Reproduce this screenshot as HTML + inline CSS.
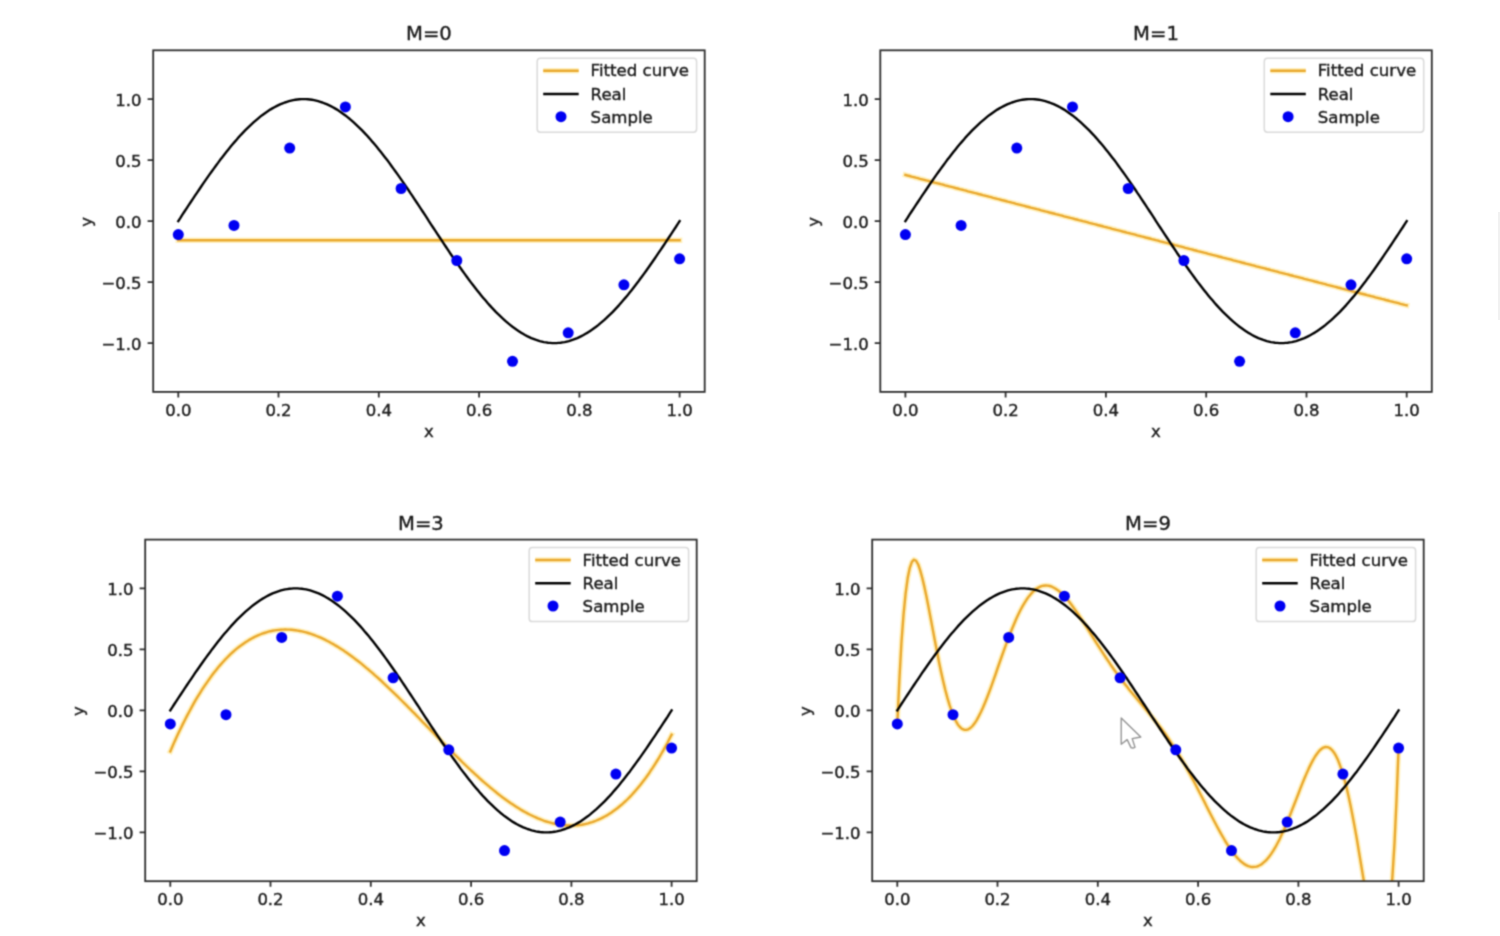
<!DOCTYPE html>
<html lang="en">
<head>
<meta charset="utf-8">
<title>Polynomial curve fitting: M=0, M=1, M=3, M=9</title>
<style>
html,body{margin:0;padding:0;background:#fff;}
body{width:1500px;height:936px;overflow:hidden;position:relative;}
svg{display:block;position:absolute;left:0;top:0;}
svg text{font-family:"DejaVu Sans","Liberation Sans",sans-serif;stroke:#1c1c1c;stroke-width:0.4px;}
#edge{position:absolute;left:1497.5px;top:212px;width:2.5px;height:108px;background:#f1f1f1;}
</style>
</head>
<body>
<svg width="1500" height="936" viewBox="0 0 1500 936">
<defs><filter id="soft" x="0" y="0" width="1500" height="936" filterUnits="userSpaceOnUse" color-interpolation-filters="sRGB"><feConvolveMatrix order="3" kernelMatrix="0.0441 0.1218 0.0441 0.1218 0.3364 0.1218 0.0441 0.1218 0.0441" edgeMode="duplicate" preserveAlpha="false"/></filter></defs>
<g filter="url(#soft)">
<rect width="1500" height="936" fill="#fff"/>
<g>
<clipPath id="c0"><rect x="153.2" y="50.3" width="551.5" height="341.6"/></clipPath>
<g clip-path="url(#c0)" fill="none" stroke-width="2.40" stroke-linejoin="round" stroke-linecap="square">
<path stroke="#ffe68c" stroke-opacity="0.55" stroke-width="5.6" d="M178.3,240.2 L180.4,240.2 L182.4,240.2 L184.5,240.2 L186.6,240.2 L188.7,240.2 L190.8,240.2 L192.9,240.2 L195.0,240.2 L197.1,240.2 L199.2,240.2 L201.2,240.2 L203.3,240.2 L205.4,240.2 L207.5,240.2 L209.6,240.2 L211.7,240.2 L213.8,240.2 L215.9,240.2 L218.0,240.2 L220.0,240.2 L222.1,240.2 L224.2,240.2 L226.3,240.2 L228.4,240.2 L230.5,240.2 L232.6,240.2 L234.7,240.2 L236.8,240.2 L238.8,240.2 L240.9,240.2 L243.0,240.2 L245.1,240.2 L247.2,240.2 L249.3,240.2 L251.4,240.2 L253.5,240.2 L255.6,240.2 L257.7,240.2 L259.7,240.2 L261.8,240.2 L263.9,240.2 L266.0,240.2 L268.1,240.2 L270.2,240.2 L272.3,240.2 L274.4,240.2 L276.5,240.2 L278.5,240.2 L280.6,240.2 L282.7,240.2 L284.8,240.2 L286.9,240.2 L289.0,240.2 L291.1,240.2 L293.2,240.2 L295.3,240.2 L297.3,240.2 L299.4,240.2 L301.5,240.2 L303.6,240.2 L305.7,240.2 L307.8,240.2 L309.9,240.2 L312.0,240.2 L314.1,240.2 L316.1,240.2 L318.2,240.2 L320.3,240.2 L322.4,240.2 L324.5,240.2 L326.6,240.2 L328.7,240.2 L330.8,240.2 L332.9,240.2 L334.9,240.2 L337.0,240.2 L339.1,240.2 L341.2,240.2 L343.3,240.2 L345.4,240.2 L347.5,240.2 L349.6,240.2 L351.7,240.2 L353.7,240.2 L355.8,240.2 L357.9,240.2 L360.0,240.2 L362.1,240.2 L364.2,240.2 L366.3,240.2 L368.4,240.2 L370.5,240.2 L372.5,240.2 L374.6,240.2 L376.7,240.2 L378.8,240.2 L380.9,240.2 L383.0,240.2 L385.1,240.2 L387.2,240.2 L389.3,240.2 L391.3,240.2 L393.4,240.2 L395.5,240.2 L397.6,240.2 L399.7,240.2 L401.8,240.2 L403.9,240.2 L406.0,240.2 L408.1,240.2 L410.1,240.2 L412.2,240.2 L414.3,240.2 L416.4,240.2 L418.5,240.2 L420.6,240.2 L422.7,240.2 L424.8,240.2 L426.9,240.2 L428.9,240.2 L431.0,240.2 L433.1,240.2 L435.2,240.2 L437.3,240.2 L439.4,240.2 L441.5,240.2 L443.6,240.2 L445.7,240.2 L447.8,240.2 L449.8,240.2 L451.9,240.2 L454.0,240.2 L456.1,240.2 L458.2,240.2 L460.3,240.2 L462.4,240.2 L464.5,240.2 L466.6,240.2 L468.6,240.2 L470.7,240.2 L472.8,240.2 L474.9,240.2 L477.0,240.2 L479.1,240.2 L481.2,240.2 L483.3,240.2 L485.4,240.2 L487.4,240.2 L489.5,240.2 L491.6,240.2 L493.7,240.2 L495.8,240.2 L497.9,240.2 L500.0,240.2 L502.1,240.2 L504.2,240.2 L506.2,240.2 L508.3,240.2 L510.4,240.2 L512.5,240.2 L514.6,240.2 L516.7,240.2 L518.8,240.2 L520.9,240.2 L523.0,240.2 L525.0,240.2 L527.1,240.2 L529.2,240.2 L531.3,240.2 L533.4,240.2 L535.5,240.2 L537.6,240.2 L539.7,240.2 L541.8,240.2 L543.8,240.2 L545.9,240.2 L548.0,240.2 L550.1,240.2 L552.2,240.2 L554.3,240.2 L556.4,240.2 L558.5,240.2 L560.6,240.2 L562.6,240.2 L564.7,240.2 L566.8,240.2 L568.9,240.2 L571.0,240.2 L573.1,240.2 L575.2,240.2 L577.3,240.2 L579.4,240.2 L581.4,240.2 L583.5,240.2 L585.6,240.2 L587.7,240.2 L589.8,240.2 L591.9,240.2 L594.0,240.2 L596.1,240.2 L598.2,240.2 L600.2,240.2 L602.3,240.2 L604.4,240.2 L606.5,240.2 L608.6,240.2 L610.7,240.2 L612.8,240.2 L614.9,240.2 L617.0,240.2 L619.1,240.2 L621.1,240.2 L623.2,240.2 L625.3,240.2 L627.4,240.2 L629.5,240.2 L631.6,240.2 L633.7,240.2 L635.8,240.2 L637.9,240.2 L639.9,240.2 L642.0,240.2 L644.1,240.2 L646.2,240.2 L648.3,240.2 L650.4,240.2 L652.5,240.2 L654.6,240.2 L656.7,240.2 L658.7,240.2 L660.8,240.2 L662.9,240.2 L665.0,240.2 L667.1,240.2 L669.2,240.2 L671.3,240.2 L673.4,240.2 L675.5,240.2 L677.5,240.2 L679.6,240.2"/>
<path stroke="#eaa92f" d="M178.3,240.2 L180.4,240.2 L182.4,240.2 L184.5,240.2 L186.6,240.2 L188.7,240.2 L190.8,240.2 L192.9,240.2 L195.0,240.2 L197.1,240.2 L199.2,240.2 L201.2,240.2 L203.3,240.2 L205.4,240.2 L207.5,240.2 L209.6,240.2 L211.7,240.2 L213.8,240.2 L215.9,240.2 L218.0,240.2 L220.0,240.2 L222.1,240.2 L224.2,240.2 L226.3,240.2 L228.4,240.2 L230.5,240.2 L232.6,240.2 L234.7,240.2 L236.8,240.2 L238.8,240.2 L240.9,240.2 L243.0,240.2 L245.1,240.2 L247.2,240.2 L249.3,240.2 L251.4,240.2 L253.5,240.2 L255.6,240.2 L257.7,240.2 L259.7,240.2 L261.8,240.2 L263.9,240.2 L266.0,240.2 L268.1,240.2 L270.2,240.2 L272.3,240.2 L274.4,240.2 L276.5,240.2 L278.5,240.2 L280.6,240.2 L282.7,240.2 L284.8,240.2 L286.9,240.2 L289.0,240.2 L291.1,240.2 L293.2,240.2 L295.3,240.2 L297.3,240.2 L299.4,240.2 L301.5,240.2 L303.6,240.2 L305.7,240.2 L307.8,240.2 L309.9,240.2 L312.0,240.2 L314.1,240.2 L316.1,240.2 L318.2,240.2 L320.3,240.2 L322.4,240.2 L324.5,240.2 L326.6,240.2 L328.7,240.2 L330.8,240.2 L332.9,240.2 L334.9,240.2 L337.0,240.2 L339.1,240.2 L341.2,240.2 L343.3,240.2 L345.4,240.2 L347.5,240.2 L349.6,240.2 L351.7,240.2 L353.7,240.2 L355.8,240.2 L357.9,240.2 L360.0,240.2 L362.1,240.2 L364.2,240.2 L366.3,240.2 L368.4,240.2 L370.5,240.2 L372.5,240.2 L374.6,240.2 L376.7,240.2 L378.8,240.2 L380.9,240.2 L383.0,240.2 L385.1,240.2 L387.2,240.2 L389.3,240.2 L391.3,240.2 L393.4,240.2 L395.5,240.2 L397.6,240.2 L399.7,240.2 L401.8,240.2 L403.9,240.2 L406.0,240.2 L408.1,240.2 L410.1,240.2 L412.2,240.2 L414.3,240.2 L416.4,240.2 L418.5,240.2 L420.6,240.2 L422.7,240.2 L424.8,240.2 L426.9,240.2 L428.9,240.2 L431.0,240.2 L433.1,240.2 L435.2,240.2 L437.3,240.2 L439.4,240.2 L441.5,240.2 L443.6,240.2 L445.7,240.2 L447.8,240.2 L449.8,240.2 L451.9,240.2 L454.0,240.2 L456.1,240.2 L458.2,240.2 L460.3,240.2 L462.4,240.2 L464.5,240.2 L466.6,240.2 L468.6,240.2 L470.7,240.2 L472.8,240.2 L474.9,240.2 L477.0,240.2 L479.1,240.2 L481.2,240.2 L483.3,240.2 L485.4,240.2 L487.4,240.2 L489.5,240.2 L491.6,240.2 L493.7,240.2 L495.8,240.2 L497.9,240.2 L500.0,240.2 L502.1,240.2 L504.2,240.2 L506.2,240.2 L508.3,240.2 L510.4,240.2 L512.5,240.2 L514.6,240.2 L516.7,240.2 L518.8,240.2 L520.9,240.2 L523.0,240.2 L525.0,240.2 L527.1,240.2 L529.2,240.2 L531.3,240.2 L533.4,240.2 L535.5,240.2 L537.6,240.2 L539.7,240.2 L541.8,240.2 L543.8,240.2 L545.9,240.2 L548.0,240.2 L550.1,240.2 L552.2,240.2 L554.3,240.2 L556.4,240.2 L558.5,240.2 L560.6,240.2 L562.6,240.2 L564.7,240.2 L566.8,240.2 L568.9,240.2 L571.0,240.2 L573.1,240.2 L575.2,240.2 L577.3,240.2 L579.4,240.2 L581.4,240.2 L583.5,240.2 L585.6,240.2 L587.7,240.2 L589.8,240.2 L591.9,240.2 L594.0,240.2 L596.1,240.2 L598.2,240.2 L600.2,240.2 L602.3,240.2 L604.4,240.2 L606.5,240.2 L608.6,240.2 L610.7,240.2 L612.8,240.2 L614.9,240.2 L617.0,240.2 L619.1,240.2 L621.1,240.2 L623.2,240.2 L625.3,240.2 L627.4,240.2 L629.5,240.2 L631.6,240.2 L633.7,240.2 L635.8,240.2 L637.9,240.2 L639.9,240.2 L642.0,240.2 L644.1,240.2 L646.2,240.2 L648.3,240.2 L650.4,240.2 L652.5,240.2 L654.6,240.2 L656.7,240.2 L658.7,240.2 L660.8,240.2 L662.9,240.2 L665.0,240.2 L667.1,240.2 L669.2,240.2 L671.3,240.2 L673.4,240.2 L675.5,240.2 L677.5,240.2 L679.6,240.2"/>
<path stroke="#000" d="M178.3,221.1 L180.4,217.9 L182.4,214.7 L184.5,211.5 L186.6,208.3 L188.7,205.2 L190.8,202.0 L192.9,198.9 L195.0,195.7 L197.1,192.6 L199.2,189.5 L201.2,186.5 L203.3,183.4 L205.4,180.4 L207.5,177.4 L209.6,174.4 L211.7,171.5 L213.8,168.6 L215.9,165.7 L218.0,162.9 L220.0,160.1 L222.1,157.4 L224.2,154.7 L226.3,152.0 L228.4,149.4 L230.5,146.8 L232.6,144.3 L234.7,141.9 L236.8,139.5 L238.8,137.1 L240.9,134.8 L243.0,132.6 L245.1,130.4 L247.2,128.3 L249.3,126.3 L251.4,124.3 L253.5,122.4 L255.6,120.6 L257.7,118.8 L259.7,117.1 L261.8,115.4 L263.9,113.9 L266.0,112.4 L268.1,111.0 L270.2,109.6 L272.3,108.4 L274.4,107.2 L276.5,106.1 L278.5,105.1 L280.6,104.1 L282.7,103.3 L284.8,102.5 L286.9,101.8 L289.0,101.1 L291.1,100.6 L293.2,100.1 L295.3,99.8 L297.3,99.5 L299.4,99.3 L301.5,99.1 L303.6,99.1 L305.7,99.1 L307.8,99.3 L309.9,99.5 L312.0,99.8 L314.1,100.1 L316.1,100.6 L318.2,101.1 L320.3,101.8 L322.4,102.5 L324.5,103.3 L326.6,104.1 L328.7,105.1 L330.8,106.1 L332.9,107.2 L334.9,108.4 L337.0,109.6 L339.1,111.0 L341.2,112.4 L343.3,113.9 L345.4,115.4 L347.5,117.1 L349.6,118.8 L351.7,120.6 L353.7,122.4 L355.8,124.3 L357.9,126.3 L360.0,128.3 L362.1,130.4 L364.2,132.6 L366.3,134.8 L368.4,137.1 L370.5,139.5 L372.5,141.9 L374.6,144.3 L376.7,146.8 L378.8,149.4 L380.9,152.0 L383.0,154.7 L385.1,157.4 L387.2,160.1 L389.3,162.9 L391.3,165.7 L393.4,168.6 L395.5,171.5 L397.6,174.4 L399.7,177.4 L401.8,180.4 L403.9,183.4 L406.0,186.5 L408.1,189.5 L410.1,192.6 L412.2,195.7 L414.3,198.9 L416.4,202.0 L418.5,205.2 L420.6,208.3 L422.7,211.5 L424.8,214.7 L426.9,217.9 L428.9,221.1 L431.0,224.3 L433.1,227.5 L435.2,230.7 L437.3,233.9 L439.4,237.0 L441.5,240.2 L443.6,243.3 L445.7,246.5 L447.8,249.6 L449.8,252.7 L451.9,255.7 L454.0,258.8 L456.1,261.8 L458.2,264.8 L460.3,267.8 L462.4,270.7 L464.5,273.6 L466.6,276.5 L468.6,279.3 L470.7,282.1 L472.8,284.8 L474.9,287.5 L477.0,290.2 L479.1,292.8 L481.2,295.4 L483.3,297.9 L485.4,300.3 L487.4,302.7 L489.5,305.1 L491.6,307.4 L493.7,309.6 L495.8,311.8 L497.9,313.9 L500.0,315.9 L502.1,317.9 L504.2,319.8 L506.2,321.6 L508.3,323.4 L510.4,325.1 L512.5,326.8 L514.6,328.3 L516.7,329.8 L518.8,331.2 L520.9,332.6 L523.0,333.8 L525.0,335.0 L527.1,336.1 L529.2,337.1 L531.3,338.1 L533.4,338.9 L535.5,339.7 L537.6,340.4 L539.7,341.1 L541.8,341.6 L543.8,342.1 L545.9,342.4 L548.0,342.7 L550.1,342.9 L552.2,343.1 L554.3,343.1 L556.4,343.1 L558.5,342.9 L560.6,342.7 L562.6,342.4 L564.7,342.1 L566.8,341.6 L568.9,341.1 L571.0,340.4 L573.1,339.7 L575.2,338.9 L577.3,338.1 L579.4,337.1 L581.4,336.1 L583.5,335.0 L585.6,333.8 L587.7,332.6 L589.8,331.2 L591.9,329.8 L594.0,328.3 L596.1,326.8 L598.2,325.1 L600.2,323.4 L602.3,321.6 L604.4,319.8 L606.5,317.9 L608.6,315.9 L610.7,313.9 L612.8,311.8 L614.9,309.6 L617.0,307.4 L619.1,305.1 L621.1,302.7 L623.2,300.3 L625.3,297.9 L627.4,295.4 L629.5,292.8 L631.6,290.2 L633.7,287.5 L635.8,284.8 L637.9,282.1 L639.9,279.3 L642.0,276.5 L644.1,273.6 L646.2,270.7 L648.3,267.8 L650.4,264.8 L652.5,261.8 L654.6,258.8 L656.7,255.7 L658.7,252.7 L660.8,249.6 L662.9,246.5 L665.0,243.3 L667.1,240.2 L669.2,237.0 L671.3,233.9 L673.4,230.7 L675.5,227.5 L677.5,224.3 L679.6,221.1"/>
</g>
<g fill="#0000f2">
<circle cx="178.3" cy="234.6" r="5.5"/>
<circle cx="234.0" cy="225.4" r="5.5"/>
<circle cx="289.7" cy="148.1" r="5.5"/>
<circle cx="345.4" cy="106.9" r="5.5"/>
<circle cx="401.1" cy="188.5" r="5.5"/>
<circle cx="456.8" cy="260.5" r="5.5"/>
<circle cx="512.5" cy="361.3" r="5.5"/>
<circle cx="568.2" cy="332.8" r="5.5"/>
<circle cx="623.9" cy="284.8" r="5.5"/>
<circle cx="679.6" cy="258.8" r="5.5"/>
</g>
<rect x="153.2" y="50.3" width="551.5" height="341.6" fill="none" stroke="#2e2e2e" stroke-width="1.80"/>
<path d="M178.3,391.9 v5.6 M278.5,391.9 v5.6 M378.8,391.9 v5.6 M479.1,391.9 v5.6 M579.4,391.9 v5.6 M679.6,391.9 v5.6 M153.2,343.1 h-5.6 M153.2,282.1 h-5.6 M153.2,221.1 h-5.6 M153.2,160.1 h-5.6 M153.2,99.1 h-5.6" stroke="#2e2e2e" stroke-width="1.80" fill="none"/>
<g font-size="16.5" fill="#1c1c1c">
<text x="178.3" y="415.9" text-anchor="middle">0.0</text>
<text x="278.5" y="415.9" text-anchor="middle">0.2</text>
<text x="378.8" y="415.9" text-anchor="middle">0.4</text>
<text x="479.1" y="415.9" text-anchor="middle">0.6</text>
<text x="579.4" y="415.9" text-anchor="middle">0.8</text>
<text x="679.6" y="415.9" text-anchor="middle">1.0</text>
<text x="141.6" y="349.6" text-anchor="end">−1.0</text>
<text x="141.6" y="288.6" text-anchor="end">−0.5</text>
<text x="141.6" y="227.6" text-anchor="end">0.0</text>
<text x="141.6" y="166.6" text-anchor="end">0.5</text>
<text x="141.6" y="105.6" text-anchor="end">1.0</text>
<text x="428.9" y="436.9" text-anchor="middle">x</text>
<text transform="translate(91.7,221.9) rotate(-90)" text-anchor="middle">y</text>
</g>
<text x="428.9" y="40.3" text-anchor="middle" font-size="19.6" fill="#1c1c1c">M=0</text>
<rect x="537.2" y="58.3" width="159.4" height="74.0" rx="3.2" fill="#fff" fill-opacity="0.8" stroke="#dadada" stroke-width="1.5"/>
<path d="M543.2,70.7 h35.5" stroke="#ffe68c" stroke-opacity="0.55" stroke-width="5.6"/>
<path d="M543.2,70.7 h35.5" stroke="#eaa92f" stroke-width="2.60"/>
<path d="M543.2,94.0 h35.5" stroke="#000" stroke-width="2.60"/>
<circle cx="561.0" cy="116.7" r="5.5" fill="#0000f2"/>
<g font-size="16.60" fill="#1c1c1c">
<text x="590.6" y="76.4">Fitted curve</text>
<text x="590.6" y="99.6">Real</text>
<text x="590.6" y="122.6">Sample</text>
</g>
</g>
<g>
<clipPath id="c1"><rect x="880.3" y="50.3" width="551.5" height="341.6"/></clipPath>
<g clip-path="url(#c1)" fill="none" stroke-width="2.40" stroke-linejoin="round" stroke-linecap="square">
<path stroke="#ffe68c" stroke-opacity="0.55" stroke-width="5.6" d="M905.4,174.9 L907.5,175.5 L909.5,176.0 L911.6,176.6 L913.7,177.1 L915.8,177.7 L917.9,178.2 L920.0,178.8 L922.1,179.3 L924.2,179.8 L926.3,180.4 L928.3,180.9 L930.4,181.5 L932.5,182.0 L934.6,182.6 L936.7,183.1 L938.8,183.6 L940.9,184.2 L943.0,184.7 L945.1,185.3 L947.1,185.8 L949.2,186.4 L951.3,186.9 L953.4,187.4 L955.5,188.0 L957.6,188.5 L959.7,189.1 L961.8,189.6 L963.9,190.2 L965.9,190.7 L968.0,191.3 L970.1,191.8 L972.2,192.3 L974.3,192.9 L976.4,193.4 L978.5,194.0 L980.6,194.5 L982.7,195.1 L984.8,195.6 L986.8,196.1 L988.9,196.7 L991.0,197.2 L993.1,197.8 L995.2,198.3 L997.3,198.9 L999.4,199.4 L1001.5,200.0 L1003.6,200.5 L1005.6,201.0 L1007.7,201.6 L1009.8,202.1 L1011.9,202.7 L1014.0,203.2 L1016.1,203.8 L1018.2,204.3 L1020.3,204.8 L1022.4,205.4 L1024.4,205.9 L1026.5,206.5 L1028.6,207.0 L1030.7,207.6 L1032.8,208.1 L1034.9,208.6 L1037.0,209.2 L1039.1,209.7 L1041.2,210.3 L1043.2,210.8 L1045.3,211.4 L1047.4,211.9 L1049.5,212.5 L1051.6,213.0 L1053.7,213.5 L1055.8,214.1 L1057.9,214.6 L1060.0,215.2 L1062.0,215.7 L1064.1,216.3 L1066.2,216.8 L1068.3,217.3 L1070.4,217.9 L1072.5,218.4 L1074.6,219.0 L1076.7,219.5 L1078.8,220.1 L1080.8,220.6 L1082.9,221.2 L1085.0,221.7 L1087.1,222.2 L1089.2,222.8 L1091.3,223.3 L1093.4,223.9 L1095.5,224.4 L1097.6,225.0 L1099.6,225.5 L1101.7,226.0 L1103.8,226.6 L1105.9,227.1 L1108.0,227.7 L1110.1,228.2 L1112.2,228.8 L1114.3,229.3 L1116.4,229.9 L1118.4,230.4 L1120.5,230.9 L1122.6,231.5 L1124.7,232.0 L1126.8,232.6 L1128.9,233.1 L1131.0,233.7 L1133.1,234.2 L1135.2,234.7 L1137.2,235.3 L1139.3,235.8 L1141.4,236.4 L1143.5,236.9 L1145.6,237.5 L1147.7,238.0 L1149.8,238.5 L1151.9,239.1 L1154.0,239.6 L1156.0,240.2 L1158.1,240.7 L1160.2,241.3 L1162.3,241.8 L1164.4,242.4 L1166.5,242.9 L1168.6,243.4 L1170.7,244.0 L1172.8,244.5 L1174.9,245.1 L1176.9,245.6 L1179.0,246.2 L1181.1,246.7 L1183.2,247.2 L1185.3,247.8 L1187.4,248.3 L1189.5,248.9 L1191.6,249.4 L1193.7,250.0 L1195.7,250.5 L1197.8,251.1 L1199.9,251.6 L1202.0,252.1 L1204.1,252.7 L1206.2,253.2 L1208.3,253.8 L1210.4,254.3 L1212.5,254.9 L1214.5,255.4 L1216.6,255.9 L1218.7,256.5 L1220.8,257.0 L1222.9,257.6 L1225.0,258.1 L1227.1,258.7 L1229.2,259.2 L1231.3,259.7 L1233.3,260.3 L1235.4,260.8 L1237.5,261.4 L1239.6,261.9 L1241.7,262.5 L1243.8,263.0 L1245.9,263.6 L1248.0,264.1 L1250.1,264.6 L1252.1,265.2 L1254.2,265.7 L1256.3,266.3 L1258.4,266.8 L1260.5,267.4 L1262.6,267.9 L1264.7,268.4 L1266.8,269.0 L1268.9,269.5 L1270.9,270.1 L1273.0,270.6 L1275.1,271.2 L1277.2,271.7 L1279.3,272.3 L1281.4,272.8 L1283.5,273.3 L1285.6,273.9 L1287.7,274.4 L1289.7,275.0 L1291.8,275.5 L1293.9,276.1 L1296.0,276.6 L1298.1,277.1 L1300.2,277.7 L1302.3,278.2 L1304.4,278.8 L1306.5,279.3 L1308.5,279.9 L1310.6,280.4 L1312.7,280.9 L1314.8,281.5 L1316.9,282.0 L1319.0,282.6 L1321.1,283.1 L1323.2,283.7 L1325.3,284.2 L1327.3,284.8 L1329.4,285.3 L1331.5,285.8 L1333.6,286.4 L1335.7,286.9 L1337.8,287.5 L1339.9,288.0 L1342.0,288.6 L1344.1,289.1 L1346.2,289.6 L1348.2,290.2 L1350.3,290.7 L1352.4,291.3 L1354.5,291.8 L1356.6,292.4 L1358.7,292.9 L1360.8,293.5 L1362.9,294.0 L1365.0,294.5 L1367.0,295.1 L1369.1,295.6 L1371.2,296.2 L1373.3,296.7 L1375.4,297.3 L1377.5,297.8 L1379.6,298.3 L1381.7,298.9 L1383.8,299.4 L1385.8,300.0 L1387.9,300.5 L1390.0,301.1 L1392.1,301.6 L1394.2,302.2 L1396.3,302.7 L1398.4,303.2 L1400.5,303.8 L1402.6,304.3 L1404.6,304.9 L1406.7,305.4"/>
<path stroke="#eaa92f" d="M905.4,174.9 L907.5,175.5 L909.5,176.0 L911.6,176.6 L913.7,177.1 L915.8,177.7 L917.9,178.2 L920.0,178.8 L922.1,179.3 L924.2,179.8 L926.3,180.4 L928.3,180.9 L930.4,181.5 L932.5,182.0 L934.6,182.6 L936.7,183.1 L938.8,183.6 L940.9,184.2 L943.0,184.7 L945.1,185.3 L947.1,185.8 L949.2,186.4 L951.3,186.9 L953.4,187.4 L955.5,188.0 L957.6,188.5 L959.7,189.1 L961.8,189.6 L963.9,190.2 L965.9,190.7 L968.0,191.3 L970.1,191.8 L972.2,192.3 L974.3,192.9 L976.4,193.4 L978.5,194.0 L980.6,194.5 L982.7,195.1 L984.8,195.6 L986.8,196.1 L988.9,196.7 L991.0,197.2 L993.1,197.8 L995.2,198.3 L997.3,198.9 L999.4,199.4 L1001.5,200.0 L1003.6,200.5 L1005.6,201.0 L1007.7,201.6 L1009.8,202.1 L1011.9,202.7 L1014.0,203.2 L1016.1,203.8 L1018.2,204.3 L1020.3,204.8 L1022.4,205.4 L1024.4,205.9 L1026.5,206.5 L1028.6,207.0 L1030.7,207.6 L1032.8,208.1 L1034.9,208.6 L1037.0,209.2 L1039.1,209.7 L1041.2,210.3 L1043.2,210.8 L1045.3,211.4 L1047.4,211.9 L1049.5,212.5 L1051.6,213.0 L1053.7,213.5 L1055.8,214.1 L1057.9,214.6 L1060.0,215.2 L1062.0,215.7 L1064.1,216.3 L1066.2,216.8 L1068.3,217.3 L1070.4,217.9 L1072.5,218.4 L1074.6,219.0 L1076.7,219.5 L1078.8,220.1 L1080.8,220.6 L1082.9,221.2 L1085.0,221.7 L1087.1,222.2 L1089.2,222.8 L1091.3,223.3 L1093.4,223.9 L1095.5,224.4 L1097.6,225.0 L1099.6,225.5 L1101.7,226.0 L1103.8,226.6 L1105.9,227.1 L1108.0,227.7 L1110.1,228.2 L1112.2,228.8 L1114.3,229.3 L1116.4,229.9 L1118.4,230.4 L1120.5,230.9 L1122.6,231.5 L1124.7,232.0 L1126.8,232.6 L1128.9,233.1 L1131.0,233.7 L1133.1,234.2 L1135.2,234.7 L1137.2,235.3 L1139.3,235.8 L1141.4,236.4 L1143.5,236.9 L1145.6,237.5 L1147.7,238.0 L1149.8,238.5 L1151.9,239.1 L1154.0,239.6 L1156.0,240.2 L1158.1,240.7 L1160.2,241.3 L1162.3,241.8 L1164.4,242.4 L1166.5,242.9 L1168.6,243.4 L1170.7,244.0 L1172.8,244.5 L1174.9,245.1 L1176.9,245.6 L1179.0,246.2 L1181.1,246.7 L1183.2,247.2 L1185.3,247.8 L1187.4,248.3 L1189.5,248.9 L1191.6,249.4 L1193.7,250.0 L1195.7,250.5 L1197.8,251.1 L1199.9,251.6 L1202.0,252.1 L1204.1,252.7 L1206.2,253.2 L1208.3,253.8 L1210.4,254.3 L1212.5,254.9 L1214.5,255.4 L1216.6,255.9 L1218.7,256.5 L1220.8,257.0 L1222.9,257.6 L1225.0,258.1 L1227.1,258.7 L1229.2,259.2 L1231.3,259.7 L1233.3,260.3 L1235.4,260.8 L1237.5,261.4 L1239.6,261.9 L1241.7,262.5 L1243.8,263.0 L1245.9,263.6 L1248.0,264.1 L1250.1,264.6 L1252.1,265.2 L1254.2,265.7 L1256.3,266.3 L1258.4,266.8 L1260.5,267.4 L1262.6,267.9 L1264.7,268.4 L1266.8,269.0 L1268.9,269.5 L1270.9,270.1 L1273.0,270.6 L1275.1,271.2 L1277.2,271.7 L1279.3,272.3 L1281.4,272.8 L1283.5,273.3 L1285.6,273.9 L1287.7,274.4 L1289.7,275.0 L1291.8,275.5 L1293.9,276.1 L1296.0,276.6 L1298.1,277.1 L1300.2,277.7 L1302.3,278.2 L1304.4,278.8 L1306.5,279.3 L1308.5,279.9 L1310.6,280.4 L1312.7,280.9 L1314.8,281.5 L1316.9,282.0 L1319.0,282.6 L1321.1,283.1 L1323.2,283.7 L1325.3,284.2 L1327.3,284.8 L1329.4,285.3 L1331.5,285.8 L1333.6,286.4 L1335.7,286.9 L1337.8,287.5 L1339.9,288.0 L1342.0,288.6 L1344.1,289.1 L1346.2,289.6 L1348.2,290.2 L1350.3,290.7 L1352.4,291.3 L1354.5,291.8 L1356.6,292.4 L1358.7,292.9 L1360.8,293.5 L1362.9,294.0 L1365.0,294.5 L1367.0,295.1 L1369.1,295.6 L1371.2,296.2 L1373.3,296.7 L1375.4,297.3 L1377.5,297.8 L1379.6,298.3 L1381.7,298.9 L1383.8,299.4 L1385.8,300.0 L1387.9,300.5 L1390.0,301.1 L1392.1,301.6 L1394.2,302.2 L1396.3,302.7 L1398.4,303.2 L1400.5,303.8 L1402.6,304.3 L1404.6,304.9 L1406.7,305.4"/>
<path stroke="#000" d="M905.4,221.1 L907.5,217.9 L909.5,214.7 L911.6,211.5 L913.7,208.3 L915.8,205.2 L917.9,202.0 L920.0,198.9 L922.1,195.7 L924.2,192.6 L926.3,189.5 L928.3,186.5 L930.4,183.4 L932.5,180.4 L934.6,177.4 L936.7,174.4 L938.8,171.5 L940.9,168.6 L943.0,165.7 L945.1,162.9 L947.1,160.1 L949.2,157.4 L951.3,154.7 L953.4,152.0 L955.5,149.4 L957.6,146.8 L959.7,144.3 L961.8,141.9 L963.9,139.5 L965.9,137.1 L968.0,134.8 L970.1,132.6 L972.2,130.4 L974.3,128.3 L976.4,126.3 L978.5,124.3 L980.6,122.4 L982.7,120.6 L984.8,118.8 L986.8,117.1 L988.9,115.4 L991.0,113.9 L993.1,112.4 L995.2,111.0 L997.3,109.6 L999.4,108.4 L1001.5,107.2 L1003.6,106.1 L1005.6,105.1 L1007.7,104.1 L1009.8,103.3 L1011.9,102.5 L1014.0,101.8 L1016.1,101.1 L1018.2,100.6 L1020.3,100.1 L1022.4,99.8 L1024.4,99.5 L1026.5,99.3 L1028.6,99.1 L1030.7,99.1 L1032.8,99.1 L1034.9,99.3 L1037.0,99.5 L1039.1,99.8 L1041.2,100.1 L1043.2,100.6 L1045.3,101.1 L1047.4,101.8 L1049.5,102.5 L1051.6,103.3 L1053.7,104.1 L1055.8,105.1 L1057.9,106.1 L1060.0,107.2 L1062.0,108.4 L1064.1,109.6 L1066.2,111.0 L1068.3,112.4 L1070.4,113.9 L1072.5,115.4 L1074.6,117.1 L1076.7,118.8 L1078.8,120.6 L1080.8,122.4 L1082.9,124.3 L1085.0,126.3 L1087.1,128.3 L1089.2,130.4 L1091.3,132.6 L1093.4,134.8 L1095.5,137.1 L1097.6,139.5 L1099.6,141.9 L1101.7,144.3 L1103.8,146.8 L1105.9,149.4 L1108.0,152.0 L1110.1,154.7 L1112.2,157.4 L1114.3,160.1 L1116.4,162.9 L1118.4,165.7 L1120.5,168.6 L1122.6,171.5 L1124.7,174.4 L1126.8,177.4 L1128.9,180.4 L1131.0,183.4 L1133.1,186.5 L1135.2,189.5 L1137.2,192.6 L1139.3,195.7 L1141.4,198.9 L1143.5,202.0 L1145.6,205.2 L1147.7,208.3 L1149.8,211.5 L1151.9,214.7 L1154.0,217.9 L1156.0,221.1 L1158.1,224.3 L1160.2,227.5 L1162.3,230.7 L1164.4,233.9 L1166.5,237.0 L1168.6,240.2 L1170.7,243.3 L1172.8,246.5 L1174.9,249.6 L1176.9,252.7 L1179.0,255.7 L1181.1,258.8 L1183.2,261.8 L1185.3,264.8 L1187.4,267.8 L1189.5,270.7 L1191.6,273.6 L1193.7,276.5 L1195.7,279.3 L1197.8,282.1 L1199.9,284.8 L1202.0,287.5 L1204.1,290.2 L1206.2,292.8 L1208.3,295.4 L1210.4,297.9 L1212.5,300.3 L1214.5,302.7 L1216.6,305.1 L1218.7,307.4 L1220.8,309.6 L1222.9,311.8 L1225.0,313.9 L1227.1,315.9 L1229.2,317.9 L1231.3,319.8 L1233.3,321.6 L1235.4,323.4 L1237.5,325.1 L1239.6,326.8 L1241.7,328.3 L1243.8,329.8 L1245.9,331.2 L1248.0,332.6 L1250.1,333.8 L1252.1,335.0 L1254.2,336.1 L1256.3,337.1 L1258.4,338.1 L1260.5,338.9 L1262.6,339.7 L1264.7,340.4 L1266.8,341.1 L1268.9,341.6 L1270.9,342.1 L1273.0,342.4 L1275.1,342.7 L1277.2,342.9 L1279.3,343.1 L1281.4,343.1 L1283.5,343.1 L1285.6,342.9 L1287.7,342.7 L1289.7,342.4 L1291.8,342.1 L1293.9,341.6 L1296.0,341.1 L1298.1,340.4 L1300.2,339.7 L1302.3,338.9 L1304.4,338.1 L1306.5,337.1 L1308.5,336.1 L1310.6,335.0 L1312.7,333.8 L1314.8,332.6 L1316.9,331.2 L1319.0,329.8 L1321.1,328.3 L1323.2,326.8 L1325.3,325.1 L1327.3,323.4 L1329.4,321.6 L1331.5,319.8 L1333.6,317.9 L1335.7,315.9 L1337.8,313.9 L1339.9,311.8 L1342.0,309.6 L1344.1,307.4 L1346.2,305.1 L1348.2,302.7 L1350.3,300.3 L1352.4,297.9 L1354.5,295.4 L1356.6,292.8 L1358.7,290.2 L1360.8,287.5 L1362.9,284.8 L1365.0,282.1 L1367.0,279.3 L1369.1,276.5 L1371.2,273.6 L1373.3,270.7 L1375.4,267.8 L1377.5,264.8 L1379.6,261.8 L1381.7,258.8 L1383.8,255.7 L1385.8,252.7 L1387.9,249.6 L1390.0,246.5 L1392.1,243.3 L1394.2,240.2 L1396.3,237.0 L1398.4,233.9 L1400.5,230.7 L1402.6,227.5 L1404.6,224.3 L1406.7,221.1"/>
</g>
<g fill="#0000f2">
<circle cx="905.4" cy="234.6" r="5.5"/>
<circle cx="961.1" cy="225.4" r="5.5"/>
<circle cx="1016.8" cy="148.1" r="5.5"/>
<circle cx="1072.5" cy="106.9" r="5.5"/>
<circle cx="1128.2" cy="188.5" r="5.5"/>
<circle cx="1183.9" cy="260.5" r="5.5"/>
<circle cx="1239.6" cy="361.3" r="5.5"/>
<circle cx="1295.3" cy="332.8" r="5.5"/>
<circle cx="1351.0" cy="284.8" r="5.5"/>
<circle cx="1406.7" cy="258.8" r="5.5"/>
</g>
<rect x="880.3" y="50.3" width="551.5" height="341.6" fill="none" stroke="#2e2e2e" stroke-width="1.80"/>
<path d="M905.4,391.9 v5.6 M1005.6,391.9 v5.6 M1105.9,391.9 v5.6 M1206.2,391.9 v5.6 M1306.5,391.9 v5.6 M1406.7,391.9 v5.6 M880.3,343.1 h-5.6 M880.3,282.1 h-5.6 M880.3,221.1 h-5.6 M880.3,160.1 h-5.6 M880.3,99.1 h-5.6" stroke="#2e2e2e" stroke-width="1.80" fill="none"/>
<g font-size="16.5" fill="#1c1c1c">
<text x="905.4" y="415.9" text-anchor="middle">0.0</text>
<text x="1005.6" y="415.9" text-anchor="middle">0.2</text>
<text x="1105.9" y="415.9" text-anchor="middle">0.4</text>
<text x="1206.2" y="415.9" text-anchor="middle">0.6</text>
<text x="1306.5" y="415.9" text-anchor="middle">0.8</text>
<text x="1406.7" y="415.9" text-anchor="middle">1.0</text>
<text x="868.7" y="349.6" text-anchor="end">−1.0</text>
<text x="868.7" y="288.6" text-anchor="end">−0.5</text>
<text x="868.7" y="227.6" text-anchor="end">0.0</text>
<text x="868.7" y="166.6" text-anchor="end">0.5</text>
<text x="868.7" y="105.6" text-anchor="end">1.0</text>
<text x="1156.0" y="436.9" text-anchor="middle">x</text>
<text transform="translate(818.8,221.9) rotate(-90)" text-anchor="middle">y</text>
</g>
<text x="1156.0" y="40.3" text-anchor="middle" font-size="19.6" fill="#1c1c1c">M=1</text>
<rect x="1264.3" y="58.3" width="159.4" height="74.0" rx="3.2" fill="#fff" fill-opacity="0.8" stroke="#dadada" stroke-width="1.5"/>
<path d="M1270.3,70.7 h35.5" stroke="#ffe68c" stroke-opacity="0.55" stroke-width="5.6"/>
<path d="M1270.3,70.7 h35.5" stroke="#eaa92f" stroke-width="2.60"/>
<path d="M1270.3,94.0 h35.5" stroke="#000" stroke-width="2.60"/>
<circle cx="1288.1" cy="116.7" r="5.5" fill="#0000f2"/>
<g font-size="16.60" fill="#1c1c1c">
<text x="1317.7" y="76.4">Fitted curve</text>
<text x="1317.7" y="99.6">Real</text>
<text x="1317.7" y="122.6">Sample</text>
</g>
</g>
<g>
<clipPath id="c2"><rect x="145.2" y="539.6" width="551.5" height="341.6"/></clipPath>
<g clip-path="url(#c2)" fill="none" stroke-width="2.40" stroke-linejoin="round" stroke-linecap="square">
<path stroke="#ffe68c" stroke-opacity="0.55" stroke-width="5.6" d="M170.3,751.4 L172.4,746.6 L174.4,741.9 L176.5,737.3 L178.6,732.8 L180.7,728.4 L182.8,724.1 L184.9,720.0 L187.0,715.9 L189.1,712.0 L191.2,708.1 L193.2,704.4 L195.3,700.7 L197.4,697.2 L199.5,693.8 L201.6,690.4 L203.7,687.2 L205.8,684.1 L207.9,681.1 L210.0,678.1 L212.0,675.3 L214.1,672.5 L216.2,669.9 L218.3,667.3 L220.4,664.9 L222.5,662.5 L224.6,660.2 L226.7,658.0 L228.8,655.9 L230.8,653.9 L232.9,652.0 L235.0,650.2 L237.1,648.4 L239.2,646.7 L241.3,645.2 L243.4,643.7 L245.5,642.2 L247.6,640.9 L249.7,639.6 L251.7,638.5 L253.8,637.4 L255.9,636.3 L258.0,635.4 L260.1,634.5 L262.2,633.7 L264.3,633.0 L266.4,632.3 L268.5,631.7 L270.5,631.2 L272.6,630.8 L274.7,630.4 L276.8,630.1 L278.9,629.9 L281.0,629.7 L283.1,629.6 L285.2,629.5 L287.3,629.6 L289.3,629.6 L291.4,629.8 L293.5,630.0 L295.6,630.3 L297.7,630.6 L299.8,631.0 L301.9,631.4 L304.0,631.9 L306.1,632.4 L308.1,633.0 L310.2,633.7 L312.3,634.4 L314.4,635.2 L316.5,636.0 L318.6,636.8 L320.7,637.7 L322.8,638.7 L324.9,639.7 L326.9,640.7 L329.0,641.8 L331.1,643.0 L333.2,644.1 L335.3,645.4 L337.4,646.6 L339.5,647.9 L341.6,649.3 L343.7,650.6 L345.7,652.1 L347.8,653.5 L349.9,655.0 L352.0,656.5 L354.1,658.1 L356.2,659.7 L358.3,661.3 L360.4,662.9 L362.5,664.6 L364.5,666.3 L366.6,668.1 L368.7,669.8 L370.8,671.6 L372.9,673.4 L375.0,675.3 L377.1,677.1 L379.2,679.0 L381.3,680.9 L383.3,682.9 L385.4,684.8 L387.5,686.8 L389.6,688.8 L391.7,690.8 L393.8,692.8 L395.9,694.8 L398.0,696.9 L400.1,699.0 L402.1,701.0 L404.2,703.1 L406.3,705.2 L408.4,707.3 L410.5,709.4 L412.6,711.6 L414.7,713.7 L416.8,715.8 L418.9,718.0 L420.9,720.1 L423.0,722.3 L425.1,724.4 L427.2,726.6 L429.3,728.7 L431.4,730.9 L433.5,733.0 L435.6,735.2 L437.7,737.3 L439.8,739.5 L441.8,741.6 L443.9,743.7 L446.0,745.9 L448.1,748.0 L450.2,750.1 L452.3,752.2 L454.4,754.3 L456.5,756.3 L458.6,758.4 L460.6,760.4 L462.7,762.5 L464.8,764.5 L466.9,766.5 L469.0,768.5 L471.1,770.5 L473.2,772.4 L475.3,774.3 L477.4,776.2 L479.4,778.1 L481.5,780.0 L483.6,781.8 L485.7,783.6 L487.8,785.4 L489.9,787.2 L492.0,788.9 L494.1,790.6 L496.2,792.3 L498.2,794.0 L500.3,795.6 L502.4,797.2 L504.5,798.7 L506.6,800.2 L508.7,801.7 L510.8,803.2 L512.9,804.6 L515.0,806.0 L517.0,807.3 L519.1,808.6 L521.2,809.9 L523.3,811.1 L525.4,812.2 L527.5,813.4 L529.6,814.5 L531.7,815.5 L533.8,816.5 L535.8,817.4 L537.9,818.4 L540.0,819.2 L542.1,820.0 L544.2,820.8 L546.3,821.5 L548.4,822.1 L550.5,822.7 L552.6,823.3 L554.6,823.7 L556.7,824.2 L558.8,824.5 L560.9,824.9 L563.0,825.1 L565.1,825.3 L567.2,825.5 L569.3,825.5 L571.4,825.6 L573.4,825.5 L575.5,825.4 L577.6,825.2 L579.7,825.0 L581.8,824.7 L583.9,824.3 L586.0,823.8 L588.1,823.3 L590.2,822.7 L592.2,822.1 L594.3,821.3 L596.4,820.5 L598.5,819.6 L600.6,818.7 L602.7,817.6 L604.8,816.5 L606.9,815.4 L609.0,814.1 L611.1,812.7 L613.1,811.3 L615.2,809.8 L617.3,808.2 L619.4,806.5 L621.5,804.8 L623.6,802.9 L625.7,801.0 L627.8,799.0 L629.9,796.9 L631.9,794.7 L634.0,792.4 L636.1,790.0 L638.2,787.5 L640.3,785.0 L642.4,782.3 L644.5,779.6 L646.6,776.7 L648.7,773.8 L650.7,770.7 L652.8,767.6 L654.9,764.3 L657.0,761.0 L659.1,757.6 L661.2,754.0 L663.3,750.4 L665.4,746.6 L667.5,742.8 L669.5,738.8 L671.6,734.7"/>
<path stroke="#eaa92f" d="M170.3,751.4 L172.4,746.6 L174.4,741.9 L176.5,737.3 L178.6,732.8 L180.7,728.4 L182.8,724.1 L184.9,720.0 L187.0,715.9 L189.1,712.0 L191.2,708.1 L193.2,704.4 L195.3,700.7 L197.4,697.2 L199.5,693.8 L201.6,690.4 L203.7,687.2 L205.8,684.1 L207.9,681.1 L210.0,678.1 L212.0,675.3 L214.1,672.5 L216.2,669.9 L218.3,667.3 L220.4,664.9 L222.5,662.5 L224.6,660.2 L226.7,658.0 L228.8,655.9 L230.8,653.9 L232.9,652.0 L235.0,650.2 L237.1,648.4 L239.2,646.7 L241.3,645.2 L243.4,643.7 L245.5,642.2 L247.6,640.9 L249.7,639.6 L251.7,638.5 L253.8,637.4 L255.9,636.3 L258.0,635.4 L260.1,634.5 L262.2,633.7 L264.3,633.0 L266.4,632.3 L268.5,631.7 L270.5,631.2 L272.6,630.8 L274.7,630.4 L276.8,630.1 L278.9,629.9 L281.0,629.7 L283.1,629.6 L285.2,629.5 L287.3,629.6 L289.3,629.6 L291.4,629.8 L293.5,630.0 L295.6,630.3 L297.7,630.6 L299.8,631.0 L301.9,631.4 L304.0,631.9 L306.1,632.4 L308.1,633.0 L310.2,633.7 L312.3,634.4 L314.4,635.2 L316.5,636.0 L318.6,636.8 L320.7,637.7 L322.8,638.7 L324.9,639.7 L326.9,640.7 L329.0,641.8 L331.1,643.0 L333.2,644.1 L335.3,645.4 L337.4,646.6 L339.5,647.9 L341.6,649.3 L343.7,650.6 L345.7,652.1 L347.8,653.5 L349.9,655.0 L352.0,656.5 L354.1,658.1 L356.2,659.7 L358.3,661.3 L360.4,662.9 L362.5,664.6 L364.5,666.3 L366.6,668.1 L368.7,669.8 L370.8,671.6 L372.9,673.4 L375.0,675.3 L377.1,677.1 L379.2,679.0 L381.3,680.9 L383.3,682.9 L385.4,684.8 L387.5,686.8 L389.6,688.8 L391.7,690.8 L393.8,692.8 L395.9,694.8 L398.0,696.9 L400.1,699.0 L402.1,701.0 L404.2,703.1 L406.3,705.2 L408.4,707.3 L410.5,709.4 L412.6,711.6 L414.7,713.7 L416.8,715.8 L418.9,718.0 L420.9,720.1 L423.0,722.3 L425.1,724.4 L427.2,726.6 L429.3,728.7 L431.4,730.9 L433.5,733.0 L435.6,735.2 L437.7,737.3 L439.8,739.5 L441.8,741.6 L443.9,743.7 L446.0,745.9 L448.1,748.0 L450.2,750.1 L452.3,752.2 L454.4,754.3 L456.5,756.3 L458.6,758.4 L460.6,760.4 L462.7,762.5 L464.8,764.5 L466.9,766.5 L469.0,768.5 L471.1,770.5 L473.2,772.4 L475.3,774.3 L477.4,776.2 L479.4,778.1 L481.5,780.0 L483.6,781.8 L485.7,783.6 L487.8,785.4 L489.9,787.2 L492.0,788.9 L494.1,790.6 L496.2,792.3 L498.2,794.0 L500.3,795.6 L502.4,797.2 L504.5,798.7 L506.6,800.2 L508.7,801.7 L510.8,803.2 L512.9,804.6 L515.0,806.0 L517.0,807.3 L519.1,808.6 L521.2,809.9 L523.3,811.1 L525.4,812.2 L527.5,813.4 L529.6,814.5 L531.7,815.5 L533.8,816.5 L535.8,817.4 L537.9,818.4 L540.0,819.2 L542.1,820.0 L544.2,820.8 L546.3,821.5 L548.4,822.1 L550.5,822.7 L552.6,823.3 L554.6,823.7 L556.7,824.2 L558.8,824.5 L560.9,824.9 L563.0,825.1 L565.1,825.3 L567.2,825.5 L569.3,825.5 L571.4,825.6 L573.4,825.5 L575.5,825.4 L577.6,825.2 L579.7,825.0 L581.8,824.7 L583.9,824.3 L586.0,823.8 L588.1,823.3 L590.2,822.7 L592.2,822.1 L594.3,821.3 L596.4,820.5 L598.5,819.6 L600.6,818.7 L602.7,817.6 L604.8,816.5 L606.9,815.4 L609.0,814.1 L611.1,812.7 L613.1,811.3 L615.2,809.8 L617.3,808.2 L619.4,806.5 L621.5,804.8 L623.6,802.9 L625.7,801.0 L627.8,799.0 L629.9,796.9 L631.9,794.7 L634.0,792.4 L636.1,790.0 L638.2,787.5 L640.3,785.0 L642.4,782.3 L644.5,779.6 L646.6,776.7 L648.7,773.8 L650.7,770.7 L652.8,767.6 L654.9,764.3 L657.0,761.0 L659.1,757.6 L661.2,754.0 L663.3,750.4 L665.4,746.6 L667.5,742.8 L669.5,738.8 L671.6,734.7"/>
<path stroke="#000" d="M170.3,710.4 L172.4,707.2 L174.4,704.0 L176.5,700.8 L178.6,697.6 L180.7,694.5 L182.8,691.3 L184.9,688.2 L187.0,685.0 L189.1,681.9 L191.2,678.8 L193.2,675.8 L195.3,672.7 L197.4,669.7 L199.5,666.7 L201.6,663.7 L203.7,660.8 L205.8,657.9 L207.9,655.0 L210.0,652.2 L212.0,649.4 L214.1,646.7 L216.2,644.0 L218.3,641.3 L220.4,638.7 L222.5,636.1 L224.6,633.6 L226.7,631.2 L228.8,628.8 L230.8,626.4 L232.9,624.1 L235.0,621.9 L237.1,619.7 L239.2,617.6 L241.3,615.6 L243.4,613.6 L245.5,611.7 L247.6,609.9 L249.7,608.1 L251.7,606.4 L253.8,604.7 L255.9,603.2 L258.0,601.7 L260.1,600.3 L262.2,598.9 L264.3,597.7 L266.4,596.5 L268.5,595.4 L270.5,594.4 L272.6,593.4 L274.7,592.6 L276.8,591.8 L278.9,591.1 L281.0,590.4 L283.1,589.9 L285.2,589.4 L287.3,589.1 L289.3,588.8 L291.4,588.6 L293.5,588.4 L295.6,588.4 L297.7,588.4 L299.8,588.6 L301.9,588.8 L304.0,589.1 L306.1,589.4 L308.1,589.9 L310.2,590.4 L312.3,591.1 L314.4,591.8 L316.5,592.6 L318.6,593.4 L320.7,594.4 L322.8,595.4 L324.9,596.5 L326.9,597.7 L329.0,598.9 L331.1,600.3 L333.2,601.7 L335.3,603.2 L337.4,604.7 L339.5,606.4 L341.6,608.1 L343.7,609.9 L345.7,611.7 L347.8,613.6 L349.9,615.6 L352.0,617.6 L354.1,619.7 L356.2,621.9 L358.3,624.1 L360.4,626.4 L362.5,628.8 L364.5,631.2 L366.6,633.6 L368.7,636.1 L370.8,638.7 L372.9,641.3 L375.0,644.0 L377.1,646.7 L379.2,649.4 L381.3,652.2 L383.3,655.0 L385.4,657.9 L387.5,660.8 L389.6,663.7 L391.7,666.7 L393.8,669.7 L395.9,672.7 L398.0,675.8 L400.1,678.8 L402.1,681.9 L404.2,685.0 L406.3,688.2 L408.4,691.3 L410.5,694.5 L412.6,697.6 L414.7,700.8 L416.8,704.0 L418.9,707.2 L420.9,710.4 L423.0,713.6 L425.1,716.8 L427.2,720.0 L429.3,723.2 L431.4,726.3 L433.5,729.5 L435.6,732.6 L437.7,735.8 L439.8,738.9 L441.8,742.0 L443.9,745.0 L446.0,748.1 L448.1,751.1 L450.2,754.1 L452.3,757.1 L454.4,760.0 L456.5,762.9 L458.6,765.8 L460.6,768.6 L462.7,771.4 L464.8,774.1 L466.9,776.8 L469.0,779.5 L471.1,782.1 L473.2,784.7 L475.3,787.2 L477.4,789.6 L479.4,792.0 L481.5,794.4 L483.6,796.7 L485.7,798.9 L487.8,801.1 L489.9,803.2 L492.0,805.2 L494.1,807.2 L496.2,809.1 L498.2,810.9 L500.3,812.7 L502.4,814.4 L504.5,816.1 L506.6,817.6 L508.7,819.1 L510.8,820.5 L512.9,821.9 L515.0,823.1 L517.0,824.3 L519.1,825.4 L521.2,826.4 L523.3,827.4 L525.4,828.2 L527.5,829.0 L529.6,829.7 L531.7,830.4 L533.8,830.9 L535.8,831.4 L537.9,831.7 L540.0,832.0 L542.1,832.2 L544.2,832.4 L546.3,832.4 L548.4,832.4 L550.5,832.2 L552.6,832.0 L554.6,831.7 L556.7,831.4 L558.8,830.9 L560.9,830.4 L563.0,829.7 L565.1,829.0 L567.2,828.2 L569.3,827.4 L571.4,826.4 L573.4,825.4 L575.5,824.3 L577.6,823.1 L579.7,821.9 L581.8,820.5 L583.9,819.1 L586.0,817.6 L588.1,816.1 L590.2,814.4 L592.2,812.7 L594.3,810.9 L596.4,809.1 L598.5,807.2 L600.6,805.2 L602.7,803.2 L604.8,801.1 L606.9,798.9 L609.0,796.7 L611.1,794.4 L613.1,792.0 L615.2,789.6 L617.3,787.2 L619.4,784.7 L621.5,782.1 L623.6,779.5 L625.7,776.8 L627.8,774.1 L629.9,771.4 L631.9,768.6 L634.0,765.8 L636.1,762.9 L638.2,760.0 L640.3,757.1 L642.4,754.1 L644.5,751.1 L646.6,748.1 L648.7,745.0 L650.7,742.0 L652.8,738.9 L654.9,735.8 L657.0,732.6 L659.1,729.5 L661.2,726.3 L663.3,723.2 L665.4,720.0 L667.5,716.8 L669.5,713.6 L671.6,710.4"/>
</g>
<g fill="#0000f2">
<circle cx="170.3" cy="723.9" r="5.5"/>
<circle cx="226.0" cy="714.7" r="5.5"/>
<circle cx="281.7" cy="637.4" r="5.5"/>
<circle cx="337.4" cy="596.2" r="5.5"/>
<circle cx="393.1" cy="677.8" r="5.5"/>
<circle cx="448.8" cy="749.8" r="5.5"/>
<circle cx="504.5" cy="850.6" r="5.5"/>
<circle cx="560.2" cy="822.1" r="5.5"/>
<circle cx="615.9" cy="774.1" r="5.5"/>
<circle cx="671.6" cy="748.1" r="5.5"/>
</g>
<rect x="145.2" y="539.6" width="551.5" height="341.6" fill="none" stroke="#2e2e2e" stroke-width="1.80"/>
<path d="M170.3,881.2 v5.6 M270.5,881.2 v5.6 M370.8,881.2 v5.6 M471.1,881.2 v5.6 M571.4,881.2 v5.6 M671.6,881.2 v5.6 M145.2,832.4 h-5.6 M145.2,771.4 h-5.6 M145.2,710.4 h-5.6 M145.2,649.4 h-5.6 M145.2,588.4 h-5.6" stroke="#2e2e2e" stroke-width="1.80" fill="none"/>
<g font-size="16.5" fill="#1c1c1c">
<text x="170.3" y="905.2" text-anchor="middle">0.0</text>
<text x="270.5" y="905.2" text-anchor="middle">0.2</text>
<text x="370.8" y="905.2" text-anchor="middle">0.4</text>
<text x="471.1" y="905.2" text-anchor="middle">0.6</text>
<text x="571.4" y="905.2" text-anchor="middle">0.8</text>
<text x="671.6" y="905.2" text-anchor="middle">1.0</text>
<text x="133.6" y="838.9" text-anchor="end">−1.0</text>
<text x="133.6" y="777.9" text-anchor="end">−0.5</text>
<text x="133.6" y="716.9" text-anchor="end">0.0</text>
<text x="133.6" y="655.9" text-anchor="end">0.5</text>
<text x="133.6" y="594.9" text-anchor="end">1.0</text>
<text x="420.9" y="926.2" text-anchor="middle">x</text>
<text transform="translate(83.7,711.2) rotate(-90)" text-anchor="middle">y</text>
</g>
<text x="420.9" y="529.6" text-anchor="middle" font-size="19.6" fill="#1c1c1c">M=3</text>
<rect x="529.2" y="547.6" width="159.4" height="74.0" rx="3.2" fill="#fff" fill-opacity="0.8" stroke="#dadada" stroke-width="1.5"/>
<path d="M535.2,560.0 h35.5" stroke="#ffe68c" stroke-opacity="0.55" stroke-width="5.6"/>
<path d="M535.2,560.0 h35.5" stroke="#eaa92f" stroke-width="2.60"/>
<path d="M535.2,583.3 h35.5" stroke="#000" stroke-width="2.60"/>
<circle cx="553.0" cy="606.0" r="5.5" fill="#0000f2"/>
<g font-size="16.60" fill="#1c1c1c">
<text x="582.6" y="565.7">Fitted curve</text>
<text x="582.6" y="588.9">Real</text>
<text x="582.6" y="611.9">Sample</text>
</g>
</g>
<g>
<clipPath id="c3"><rect x="872.2" y="539.6" width="551.5" height="341.6"/></clipPath>
<g clip-path="url(#c3)" fill="none" stroke-width="2.40" stroke-linejoin="round" stroke-linecap="square">
<path stroke="#ffe68c" stroke-opacity="0.55" stroke-width="5.6" d="M897.3,723.9 L899.4,679.2 L901.4,643.3 L903.5,615.0 L905.6,593.6 L907.7,578.1 L909.8,567.8 L911.9,561.9 L914.0,559.7 L916.1,560.8 L918.2,564.5 L920.2,570.4 L922.3,578.0 L924.4,586.9 L926.5,596.8 L928.6,607.4 L930.7,618.4 L932.8,629.6 L934.9,640.7 L937.0,651.5 L939.0,662.0 L941.1,672.0 L943.2,681.3 L945.3,690.0 L947.4,697.9 L949.5,704.9 L951.6,711.1 L953.7,716.4 L955.8,720.8 L957.8,724.4 L959.9,727.0 L962.0,728.8 L964.1,729.7 L966.2,729.9 L968.3,729.3 L970.4,728.0 L972.5,726.0 L974.6,723.3 L976.7,720.1 L978.7,716.4 L980.8,712.3 L982.9,707.7 L985.0,702.7 L987.1,697.5 L989.2,692.0 L991.3,686.3 L993.4,680.4 L995.5,674.5 L997.5,668.5 L999.6,662.5 L1001.7,656.5 L1003.8,650.6 L1005.9,644.8 L1008.0,639.2 L1010.1,633.8 L1012.2,628.5 L1014.3,623.5 L1016.3,618.7 L1018.4,614.2 L1020.5,610.0 L1022.6,606.1 L1024.7,602.6 L1026.8,599.3 L1028.9,596.4 L1031.0,593.9 L1033.1,591.6 L1035.1,589.8 L1037.2,588.3 L1039.3,587.1 L1041.4,586.2 L1043.5,585.7 L1045.6,585.5 L1047.7,585.6 L1049.8,586.0 L1051.9,586.7 L1053.9,587.7 L1056.0,589.0 L1058.1,590.4 L1060.2,592.2 L1062.3,594.1 L1064.4,596.2 L1066.5,598.6 L1068.6,601.0 L1070.7,603.7 L1072.7,606.5 L1074.8,609.4 L1076.9,612.4 L1079.0,615.5 L1081.1,618.6 L1083.2,621.9 L1085.3,625.1 L1087.4,628.4 L1089.5,631.8 L1091.5,635.1 L1093.6,638.4 L1095.7,641.8 L1097.8,645.1 L1099.9,648.4 L1102.0,651.6 L1104.1,654.8 L1106.2,658.0 L1108.3,661.1 L1110.3,664.2 L1112.4,667.2 L1114.5,670.2 L1116.6,673.1 L1118.7,675.9 L1120.8,678.7 L1122.9,681.5 L1125.0,684.2 L1127.1,686.8 L1129.1,689.4 L1131.2,692.0 L1133.3,694.5 L1135.4,697.0 L1137.5,699.5 L1139.6,702.0 L1141.7,704.5 L1143.8,707.0 L1145.9,709.5 L1148.0,711.9 L1150.0,714.5 L1152.1,717.0 L1154.2,719.6 L1156.3,722.2 L1158.4,724.9 L1160.5,727.6 L1162.6,730.4 L1164.7,733.3 L1166.8,736.2 L1168.8,739.2 L1170.9,742.3 L1173.0,745.4 L1175.1,748.7 L1177.2,752.0 L1179.3,755.4 L1181.4,758.9 L1183.5,762.5 L1185.6,766.2 L1187.6,769.9 L1189.7,773.7 L1191.8,777.6 L1193.9,781.5 L1196.0,785.5 L1198.1,789.6 L1200.2,793.7 L1202.3,797.8 L1204.4,801.9 L1206.4,806.0 L1208.5,810.1 L1210.6,814.2 L1212.7,818.3 L1214.8,822.3 L1216.9,826.3 L1219.0,830.1 L1221.1,833.9 L1223.2,837.5 L1225.2,841.0 L1227.3,844.4 L1229.4,847.6 L1231.5,850.6 L1233.6,853.4 L1235.7,856.0 L1237.8,858.4 L1239.9,860.5 L1242.0,862.3 L1244.0,863.9 L1246.1,865.1 L1248.2,866.1 L1250.3,866.7 L1252.4,867.0 L1254.5,866.9 L1256.6,866.6 L1258.7,865.8 L1260.8,864.7 L1262.8,863.2 L1264.9,861.4 L1267.0,859.3 L1269.1,856.7 L1271.2,853.9 L1273.3,850.7 L1275.4,847.2 L1277.5,843.3 L1279.6,839.2 L1281.6,834.8 L1283.7,830.2 L1285.8,825.4 L1287.9,820.4 L1290.0,815.2 L1292.1,809.9 L1294.2,804.5 L1296.3,799.1 L1298.4,793.7 L1300.4,788.4 L1302.5,783.1 L1304.6,778.0 L1306.7,773.1 L1308.8,768.4 L1310.9,764.1 L1313.0,760.1 L1315.1,756.5 L1317.2,753.5 L1319.2,750.9 L1321.3,749.0 L1323.4,747.6 L1325.5,747.0 L1327.6,747.1 L1329.7,748.0 L1331.8,749.8 L1333.9,752.4 L1336.0,755.9 L1338.1,760.3 L1340.1,765.6 L1342.2,771.9 L1344.3,779.0 L1346.4,787.1 L1348.5,796.1 L1350.6,805.8 L1352.7,816.4 L1354.8,827.6 L1356.9,839.3 L1358.9,851.5 L1361.0,864.0 L1363.1,876.6 L1365.2,889.1 L1367.3,901.2 L1369.4,912.7 L1371.5,923.3 L1373.6,932.6 L1375.7,940.2 L1377.7,945.8 L1379.8,948.7 L1381.9,948.4 L1384.0,944.5 L1386.1,936.1 L1388.2,922.6 L1390.3,903.2 L1392.4,877.0 L1394.5,843.2 L1396.5,800.5 L1398.6,748.1"/>
<path stroke="#eaa92f" d="M897.3,723.9 L899.4,679.2 L901.4,643.3 L903.5,615.0 L905.6,593.6 L907.7,578.1 L909.8,567.8 L911.9,561.9 L914.0,559.7 L916.1,560.8 L918.2,564.5 L920.2,570.4 L922.3,578.0 L924.4,586.9 L926.5,596.8 L928.6,607.4 L930.7,618.4 L932.8,629.6 L934.9,640.7 L937.0,651.5 L939.0,662.0 L941.1,672.0 L943.2,681.3 L945.3,690.0 L947.4,697.9 L949.5,704.9 L951.6,711.1 L953.7,716.4 L955.8,720.8 L957.8,724.4 L959.9,727.0 L962.0,728.8 L964.1,729.7 L966.2,729.9 L968.3,729.3 L970.4,728.0 L972.5,726.0 L974.6,723.3 L976.7,720.1 L978.7,716.4 L980.8,712.3 L982.9,707.7 L985.0,702.7 L987.1,697.5 L989.2,692.0 L991.3,686.3 L993.4,680.4 L995.5,674.5 L997.5,668.5 L999.6,662.5 L1001.7,656.5 L1003.8,650.6 L1005.9,644.8 L1008.0,639.2 L1010.1,633.8 L1012.2,628.5 L1014.3,623.5 L1016.3,618.7 L1018.4,614.2 L1020.5,610.0 L1022.6,606.1 L1024.7,602.6 L1026.8,599.3 L1028.9,596.4 L1031.0,593.9 L1033.1,591.6 L1035.1,589.8 L1037.2,588.3 L1039.3,587.1 L1041.4,586.2 L1043.5,585.7 L1045.6,585.5 L1047.7,585.6 L1049.8,586.0 L1051.9,586.7 L1053.9,587.7 L1056.0,589.0 L1058.1,590.4 L1060.2,592.2 L1062.3,594.1 L1064.4,596.2 L1066.5,598.6 L1068.6,601.0 L1070.7,603.7 L1072.7,606.5 L1074.8,609.4 L1076.9,612.4 L1079.0,615.5 L1081.1,618.6 L1083.2,621.9 L1085.3,625.1 L1087.4,628.4 L1089.5,631.8 L1091.5,635.1 L1093.6,638.4 L1095.7,641.8 L1097.8,645.1 L1099.9,648.4 L1102.0,651.6 L1104.1,654.8 L1106.2,658.0 L1108.3,661.1 L1110.3,664.2 L1112.4,667.2 L1114.5,670.2 L1116.6,673.1 L1118.7,675.9 L1120.8,678.7 L1122.9,681.5 L1125.0,684.2 L1127.1,686.8 L1129.1,689.4 L1131.2,692.0 L1133.3,694.5 L1135.4,697.0 L1137.5,699.5 L1139.6,702.0 L1141.7,704.5 L1143.8,707.0 L1145.9,709.5 L1148.0,711.9 L1150.0,714.5 L1152.1,717.0 L1154.2,719.6 L1156.3,722.2 L1158.4,724.9 L1160.5,727.6 L1162.6,730.4 L1164.7,733.3 L1166.8,736.2 L1168.8,739.2 L1170.9,742.3 L1173.0,745.4 L1175.1,748.7 L1177.2,752.0 L1179.3,755.4 L1181.4,758.9 L1183.5,762.5 L1185.6,766.2 L1187.6,769.9 L1189.7,773.7 L1191.8,777.6 L1193.9,781.5 L1196.0,785.5 L1198.1,789.6 L1200.2,793.7 L1202.3,797.8 L1204.4,801.9 L1206.4,806.0 L1208.5,810.1 L1210.6,814.2 L1212.7,818.3 L1214.8,822.3 L1216.9,826.3 L1219.0,830.1 L1221.1,833.9 L1223.2,837.5 L1225.2,841.0 L1227.3,844.4 L1229.4,847.6 L1231.5,850.6 L1233.6,853.4 L1235.7,856.0 L1237.8,858.4 L1239.9,860.5 L1242.0,862.3 L1244.0,863.9 L1246.1,865.1 L1248.2,866.1 L1250.3,866.7 L1252.4,867.0 L1254.5,866.9 L1256.6,866.6 L1258.7,865.8 L1260.8,864.7 L1262.8,863.2 L1264.9,861.4 L1267.0,859.3 L1269.1,856.7 L1271.2,853.9 L1273.3,850.7 L1275.4,847.2 L1277.5,843.3 L1279.6,839.2 L1281.6,834.8 L1283.7,830.2 L1285.8,825.4 L1287.9,820.4 L1290.0,815.2 L1292.1,809.9 L1294.2,804.5 L1296.3,799.1 L1298.4,793.7 L1300.4,788.4 L1302.5,783.1 L1304.6,778.0 L1306.7,773.1 L1308.8,768.4 L1310.9,764.1 L1313.0,760.1 L1315.1,756.5 L1317.2,753.5 L1319.2,750.9 L1321.3,749.0 L1323.4,747.6 L1325.5,747.0 L1327.6,747.1 L1329.7,748.0 L1331.8,749.8 L1333.9,752.4 L1336.0,755.9 L1338.1,760.3 L1340.1,765.6 L1342.2,771.9 L1344.3,779.0 L1346.4,787.1 L1348.5,796.1 L1350.6,805.8 L1352.7,816.4 L1354.8,827.6 L1356.9,839.3 L1358.9,851.5 L1361.0,864.0 L1363.1,876.6 L1365.2,889.1 L1367.3,901.2 L1369.4,912.7 L1371.5,923.3 L1373.6,932.6 L1375.7,940.2 L1377.7,945.8 L1379.8,948.7 L1381.9,948.4 L1384.0,944.5 L1386.1,936.1 L1388.2,922.6 L1390.3,903.2 L1392.4,877.0 L1394.5,843.2 L1396.5,800.5 L1398.6,748.1"/>
<path stroke="#000" d="M897.3,710.4 L899.4,707.2 L901.4,704.0 L903.5,700.8 L905.6,697.6 L907.7,694.5 L909.8,691.3 L911.9,688.2 L914.0,685.0 L916.1,681.9 L918.2,678.8 L920.2,675.8 L922.3,672.7 L924.4,669.7 L926.5,666.7 L928.6,663.7 L930.7,660.8 L932.8,657.9 L934.9,655.0 L937.0,652.2 L939.0,649.4 L941.1,646.7 L943.2,644.0 L945.3,641.3 L947.4,638.7 L949.5,636.1 L951.6,633.6 L953.7,631.2 L955.8,628.8 L957.8,626.4 L959.9,624.1 L962.0,621.9 L964.1,619.7 L966.2,617.6 L968.3,615.6 L970.4,613.6 L972.5,611.7 L974.6,609.9 L976.7,608.1 L978.7,606.4 L980.8,604.7 L982.9,603.2 L985.0,601.7 L987.1,600.3 L989.2,598.9 L991.3,597.7 L993.4,596.5 L995.5,595.4 L997.5,594.4 L999.6,593.4 L1001.7,592.6 L1003.8,591.8 L1005.9,591.1 L1008.0,590.4 L1010.1,589.9 L1012.2,589.4 L1014.3,589.1 L1016.3,588.8 L1018.4,588.6 L1020.5,588.4 L1022.6,588.4 L1024.7,588.4 L1026.8,588.6 L1028.9,588.8 L1031.0,589.1 L1033.1,589.4 L1035.1,589.9 L1037.2,590.4 L1039.3,591.1 L1041.4,591.8 L1043.5,592.6 L1045.6,593.4 L1047.7,594.4 L1049.8,595.4 L1051.9,596.5 L1053.9,597.7 L1056.0,598.9 L1058.1,600.3 L1060.2,601.7 L1062.3,603.2 L1064.4,604.7 L1066.5,606.4 L1068.6,608.1 L1070.7,609.9 L1072.7,611.7 L1074.8,613.6 L1076.9,615.6 L1079.0,617.6 L1081.1,619.7 L1083.2,621.9 L1085.3,624.1 L1087.4,626.4 L1089.5,628.8 L1091.5,631.2 L1093.6,633.6 L1095.7,636.1 L1097.8,638.7 L1099.9,641.3 L1102.0,644.0 L1104.1,646.7 L1106.2,649.4 L1108.3,652.2 L1110.3,655.0 L1112.4,657.9 L1114.5,660.8 L1116.6,663.7 L1118.7,666.7 L1120.8,669.7 L1122.9,672.7 L1125.0,675.8 L1127.1,678.8 L1129.1,681.9 L1131.2,685.0 L1133.3,688.2 L1135.4,691.3 L1137.5,694.5 L1139.6,697.6 L1141.7,700.8 L1143.8,704.0 L1145.9,707.2 L1148.0,710.4 L1150.0,713.6 L1152.1,716.8 L1154.2,720.0 L1156.3,723.2 L1158.4,726.3 L1160.5,729.5 L1162.6,732.6 L1164.7,735.8 L1166.8,738.9 L1168.8,742.0 L1170.9,745.0 L1173.0,748.1 L1175.1,751.1 L1177.2,754.1 L1179.3,757.1 L1181.4,760.0 L1183.5,762.9 L1185.6,765.8 L1187.6,768.6 L1189.7,771.4 L1191.8,774.1 L1193.9,776.8 L1196.0,779.5 L1198.1,782.1 L1200.2,784.7 L1202.3,787.2 L1204.4,789.6 L1206.4,792.0 L1208.5,794.4 L1210.6,796.7 L1212.7,798.9 L1214.8,801.1 L1216.9,803.2 L1219.0,805.2 L1221.1,807.2 L1223.2,809.1 L1225.2,810.9 L1227.3,812.7 L1229.4,814.4 L1231.5,816.1 L1233.6,817.6 L1235.7,819.1 L1237.8,820.5 L1239.9,821.9 L1242.0,823.1 L1244.0,824.3 L1246.1,825.4 L1248.2,826.4 L1250.3,827.4 L1252.4,828.2 L1254.5,829.0 L1256.6,829.7 L1258.7,830.4 L1260.8,830.9 L1262.8,831.4 L1264.9,831.7 L1267.0,832.0 L1269.1,832.2 L1271.2,832.4 L1273.3,832.4 L1275.4,832.4 L1277.5,832.2 L1279.6,832.0 L1281.6,831.7 L1283.7,831.4 L1285.8,830.9 L1287.9,830.4 L1290.0,829.7 L1292.1,829.0 L1294.2,828.2 L1296.3,827.4 L1298.4,826.4 L1300.4,825.4 L1302.5,824.3 L1304.6,823.1 L1306.7,821.9 L1308.8,820.5 L1310.9,819.1 L1313.0,817.6 L1315.1,816.1 L1317.2,814.4 L1319.2,812.7 L1321.3,810.9 L1323.4,809.1 L1325.5,807.2 L1327.6,805.2 L1329.7,803.2 L1331.8,801.1 L1333.9,798.9 L1336.0,796.7 L1338.1,794.4 L1340.1,792.0 L1342.2,789.6 L1344.3,787.2 L1346.4,784.7 L1348.5,782.1 L1350.6,779.5 L1352.7,776.8 L1354.8,774.1 L1356.9,771.4 L1358.9,768.6 L1361.0,765.8 L1363.1,762.9 L1365.2,760.0 L1367.3,757.1 L1369.4,754.1 L1371.5,751.1 L1373.6,748.1 L1375.7,745.0 L1377.7,742.0 L1379.8,738.9 L1381.9,735.8 L1384.0,732.6 L1386.1,729.5 L1388.2,726.3 L1390.3,723.2 L1392.4,720.0 L1394.5,716.8 L1396.5,713.6 L1398.6,710.4"/>
</g>
<g fill="#0000f2">
<circle cx="897.3" cy="723.9" r="5.5"/>
<circle cx="953.0" cy="714.7" r="5.5"/>
<circle cx="1008.7" cy="637.4" r="5.5"/>
<circle cx="1064.4" cy="596.2" r="5.5"/>
<circle cx="1120.1" cy="677.8" r="5.5"/>
<circle cx="1175.8" cy="749.8" r="5.5"/>
<circle cx="1231.5" cy="850.6" r="5.5"/>
<circle cx="1287.2" cy="822.1" r="5.5"/>
<circle cx="1342.9" cy="774.1" r="5.5"/>
<circle cx="1398.6" cy="748.1" r="5.5"/>
</g>
<rect x="872.2" y="539.6" width="551.5" height="341.6" fill="none" stroke="#2e2e2e" stroke-width="1.80"/>
<path d="M897.3,881.2 v5.6 M997.5,881.2 v5.6 M1097.8,881.2 v5.6 M1198.1,881.2 v5.6 M1298.4,881.2 v5.6 M1398.6,881.2 v5.6 M872.2,832.4 h-5.6 M872.2,771.4 h-5.6 M872.2,710.4 h-5.6 M872.2,649.4 h-5.6 M872.2,588.4 h-5.6" stroke="#2e2e2e" stroke-width="1.80" fill="none"/>
<g font-size="16.5" fill="#1c1c1c">
<text x="897.3" y="905.2" text-anchor="middle">0.0</text>
<text x="997.5" y="905.2" text-anchor="middle">0.2</text>
<text x="1097.8" y="905.2" text-anchor="middle">0.4</text>
<text x="1198.1" y="905.2" text-anchor="middle">0.6</text>
<text x="1298.4" y="905.2" text-anchor="middle">0.8</text>
<text x="1398.6" y="905.2" text-anchor="middle">1.0</text>
<text x="860.6" y="838.9" text-anchor="end">−1.0</text>
<text x="860.6" y="777.9" text-anchor="end">−0.5</text>
<text x="860.6" y="716.9" text-anchor="end">0.0</text>
<text x="860.6" y="655.9" text-anchor="end">0.5</text>
<text x="860.6" y="594.9" text-anchor="end">1.0</text>
<text x="1148.0" y="926.2" text-anchor="middle">x</text>
<text transform="translate(810.7,711.2) rotate(-90)" text-anchor="middle">y</text>
</g>
<text x="1148.0" y="529.6" text-anchor="middle" font-size="19.6" fill="#1c1c1c">M=9</text>
<rect x="1256.2" y="547.6" width="159.4" height="74.0" rx="3.2" fill="#fff" fill-opacity="0.8" stroke="#dadada" stroke-width="1.5"/>
<path d="M1262.2,560.0 h35.5" stroke="#ffe68c" stroke-opacity="0.55" stroke-width="5.6"/>
<path d="M1262.2,560.0 h35.5" stroke="#eaa92f" stroke-width="2.60"/>
<path d="M1262.2,583.3 h35.5" stroke="#000" stroke-width="2.60"/>
<circle cx="1280.0" cy="606.0" r="5.5" fill="#0000f2"/>
<g font-size="16.60" fill="#1c1c1c">
<text x="1309.6" y="565.7">Fitted curve</text>
<text x="1309.6" y="588.9">Real</text>
<text x="1309.6" y="611.9">Sample</text>
</g>
</g>
<path d="M1121.2,718 L1121.2,744.3 L1127.2,739.6 L1131,747.6 Q1133,748.6 1135,747.2 L1132.2,738.6 L1140.8,737 Z" fill="#fff" stroke="#929292" stroke-width="1.35" stroke-linejoin="round"/>
</g>
</svg>
<div id="edge"></div>
</body>
</html>
